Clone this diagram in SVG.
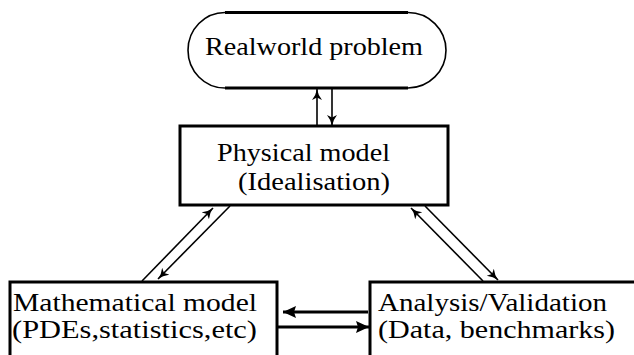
<svg xmlns="http://www.w3.org/2000/svg" width="634" height="355" viewBox="0 0 634 355">
  <style>
    .thick { fill: none; stroke: #000; stroke-width: 3; }
    .thin { fill: none; stroke: #000; stroke-width: 1.6; }
    .conn { fill: none; stroke: #000; stroke-width: 1.6; marker-end: url(#ah); }
    .hconn { fill: none; stroke: #000; stroke-width: 3; marker-end: url(#ahb); }
    text { font-family: "Liberation Serif", "Times New Roman", serif; font-size: 26px; fill: #000; }
  </style>
  <defs>
    <marker id="ah" markerUnits="userSpaceOnUse" markerWidth="14" markerHeight="12" refX="11" refY="5" orient="auto">
      <path d="M0,0 Q5,4 11,5 Q5,6 0,10 L2.5,5 Z" fill="#000"/>
    </marker>
    <marker id="ahb" markerUnits="userSpaceOnUse" markerWidth="16" markerHeight="14" refX="13" refY="6" orient="auto">
      <path d="M0,0 L13,6 L0,12 L2,6 Z" fill="#000"/>
    </marker>
  </defs>

  <g id="realworld">
    <line class="thick" x1="225" y1="12.5" x2="408" y2="12.5"/>
    <line class="thick" x1="225" y1="88" x2="408" y2="88"/>
    <path class="thin" d="M225,12.5 A37,37.75 0 0 0 225,88"/>
    <path class="thin" d="M408,12.5 A38,37.75 0 0 1 408,88"/>
    <text x="205" y="55" textLength="218" lengthAdjust="spacingAndGlyphs">Realworld problem</text>
  </g>

  <g id="physical">
    <rect class="thick" x="180" y="126" width="268" height="79"/>
    <text x="217" y="161" textLength="173" lengthAdjust="spacingAndGlyphs">Physical model</text>
    <text x="238" y="190" textLength="152" lengthAdjust="spacingAndGlyphs">(Idealisation)</text>
  </g>

  <g id="mathematical">
    <rect class="thick" x="10" y="282" width="267" height="100"/>
    <text x="13" y="311" textLength="244" lengthAdjust="spacingAndGlyphs">Mathematical model</text>
    <text x="12" y="338" textLength="245" lengthAdjust="spacingAndGlyphs">(PDEs,statistics,etc)</text>
  </g>

  <g id="analysis">
    <rect class="thick" x="370" y="282" width="300" height="100"/>
    <text x="378" y="311" textLength="229" lengthAdjust="spacingAndGlyphs">Analysis/Validation</text>
    <text x="378" y="338" textLength="237" lengthAdjust="spacingAndGlyphs">(Data, benchmarks)</text>
  </g>

  <g id="connectors">
    <line class="conn" x1="317" y1="126" x2="317" y2="89"/>
    <line class="conn" x1="332" y1="89" x2="332" y2="126"/>
    <line class="conn" x1="142" y1="281" x2="213" y2="208"/>
    <line class="conn" x1="230" y1="206" x2="158" y2="279"/>
    <line class="conn" x1="483" y1="281" x2="411" y2="208"/>
    <line class="conn" x1="425" y1="206" x2="498" y2="280"/>
    <line class="hconn" x1="368" y1="312" x2="283" y2="312"/>
    <line class="hconn" x1="277" y1="327" x2="369" y2="327"/>
  </g>
</svg>
